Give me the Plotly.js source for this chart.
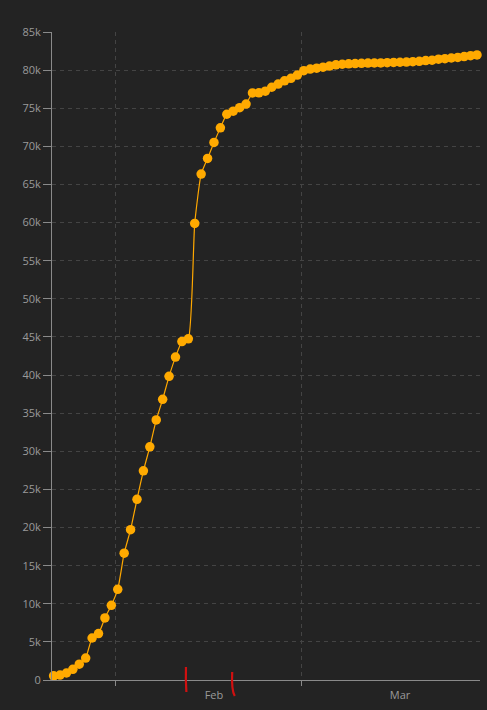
<!DOCTYPE html>
<html>
<head>
<meta charset="utf-8">
<script src="https://cdn.plot.ly/plotly-3.0.1.min.js"></script>
<style>
  html, body { margin: 0; padding: 0; background: #232323; }
  #chart { width: 487px; height: 710px; }
</style>
</head>
<body>
<div id="chart"></div>
<script>
// Dates (daily) and cumulative confirmed cases
const dates = [
  "2020-01-22","2020-01-23","2020-01-24","2020-01-25","2020-01-26","2020-01-27","2020-01-28","2020-01-29","2020-01-30","2020-01-31",
  "2020-02-01","2020-02-02","2020-02-03","2020-02-04","2020-02-05","2020-02-06","2020-02-07","2020-02-08","2020-02-09","2020-02-10",
  "2020-02-11","2020-02-12","2020-02-13","2020-02-14","2020-02-15","2020-02-16","2020-02-17","2020-02-18","2020-02-19","2020-02-20",
  "2020-02-21","2020-02-22","2020-02-23","2020-02-24","2020-02-25","2020-02-26","2020-02-27","2020-02-28","2020-02-29",
  "2020-03-01","2020-03-02","2020-03-03","2020-03-04","2020-03-05","2020-03-06","2020-03-07","2020-03-08","2020-03-09","2020-03-10",
  "2020-03-11","2020-03-12","2020-03-13","2020-03-14","2020-03-15","2020-03-16","2020-03-17","2020-03-18","2020-03-19","2020-03-20",
  "2020-03-21","2020-03-22","2020-03-23","2020-03-24","2020-03-25","2020-03-26","2020-03-27","2020-03-28"
];
const cases = [
  548, 643, 920, 1406, 2075, 2877, 5509, 6087, 8141, 9802,
  11891, 16630, 19716, 23707, 27440, 30587, 34110, 36814, 39829, 42354,
  44386, 44759, 59895, 66358, 68413, 70513, 72434, 74211, 74619, 75077,
  75550, 77001, 77022, 77241, 77754, 78166, 78600, 78928, 79356,
  79932, 80136, 80261, 80386, 80537, 80690, 80770, 80823, 80860, 80887,
  80921, 80932, 80945, 80977, 81003, 81033, 81058, 81102, 81156, 81250,
  81305, 81435, 81498, 81591, 81661, 81782, 81897, 81999
];
// Month boundaries (gridlines) and month label positions
const monthGrid = ["2020-01-31 16:00", "2020-02-29 16:00"];
const monthLabelPos = ["2020-02-16", "2020-03-16"];
const monthLabels = ["Feb", "Mar"];

const trace = {
  x: dates,
  y: cases,
  type: "scatter",
  mode: "lines+markers",
  line: { color: "#FFA800", width: 1.2, shape: "spline", smoothing: 0.5 },
  marker: { color: "#FFAA00", size: 9.5 },
  cliponaxis: false,
  hoverinfo: "x+y"
};

const layout = {
  width: 487,
  height: 710,
  paper_bgcolor: "#232323",
  plot_bgcolor: "#232323",
  margin: { l: 52, r: 7, t: 32, b: 30 },
  showlegend: false,
  font: { family: "Open Sans, sans-serif", size: 11, color: "#9a9a9a" },
  xaxis: {
    type: "date",
    range: ["2020-01-21 18:00", "2020-03-28 11:15"],
    tickmode: "array",
    tickvals: monthLabelPos,
    ticktext: monthLabels,
    ticks: "",
    ticklabelstandoff: 5,
    showgrid: false,
    zeroline: false,
    showline: true,
    linecolor: "#8a8a8a",
    linewidth: 1,
    tickfont: { size: 11, color: "#9a9a9a" },
    minor: {
      tickmode: "array",
      tickvals: monthGrid,
      ticks: "outside",
      ticklen: 5,
      tickcolor: "#8a8a8a",
      showgrid: true,
      gridcolor: "#444444",
      griddash: "4px,4px",
      gridwidth: 1
    }
  },
  yaxis: {
    range: [0, 85000],
    dtick: 5000,
    tick0: 0,
    tickformat: "~s",
    ticks: "outside",
    ticklen: 8,
    tickcolor: "#8a8a8a",
    showline: true,
    linecolor: "#8a8a8a",
    linewidth: 1,
    zeroline: false,
    showgrid: true,
    gridcolor: "#444444",
    griddash: "4px,4px",
    gridwidth: 1,
    tickfont: { size: 11, color: "#9a9a9a" }
  },
  shapes: [
    {
      type: "path", xref: "paper", yref: "paper",
      path: "M 0.313 0.020 Q 0.312 0.0 0.314 -0.0185",
      line: { color: "#d01010", width: 2.2 }
    },
    {
      type: "path", xref: "paper", yref: "paper",
      path: "M 0.421 0.0123 Q 0.419 -0.016 0.427 -0.0247",
      line: { color: "#d01010", width: 2.2 }
    }
  ]
};

Plotly.newPlot("chart", [trace], layout, { displayModeBar: false, staticPlot: true });
</script>
</body>
</html>
